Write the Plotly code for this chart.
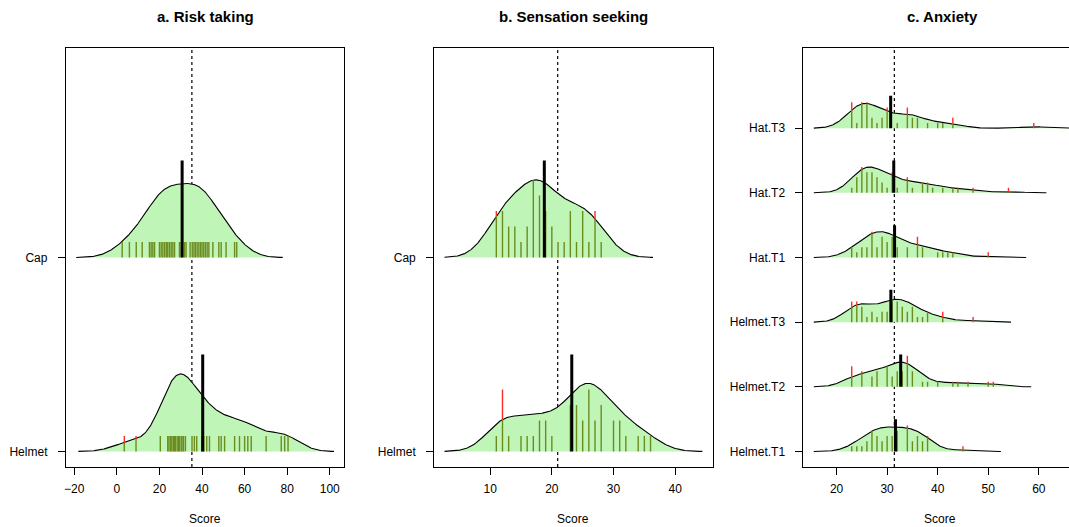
import numpy as np
import plotly.graph_objects as go

# ---------------- DATA ----------------
# a. Risk taking (continuous scores)
risk_cap = [2.5, 5.9, 9.1, 11.9, 15.3, 16.1, 16.9, 17.7, 20.0, 20.8, 21.6, 22.4, 23.2, 23.9,
            24.7, 25.5, 26.3, 27.1, 29.4, 30.2, 31.8, 32.5, 34.4, 35.4, 36.2, 36.9, 37.7, 38.5,
            39.3, 40.0, 40.8, 41.6, 42.4, 43.2, 45.1, 47.9, 49.0, 51.3, 55.3, 56.3]
risk_helmet = [3.5, 9.0, 20.4, 23.9, 24.5, 25.3, 25.8, 26.5, 27.1, 27.5, 28.3, 28.9, 29.4,
               30.2, 30.6, 31.3, 32.2, 35.3, 36.4, 37.5, 39.9, 40.8, 42.2, 43.5, 47.9, 49.0,
               50.6, 55.3, 57.6, 60.0, 61.5, 63.1, 70.1, 77.2, 78.8, 80.4]

# b. Sensation seeking (integer scores: value -> count)
ss_cap_values = [11, 12, 13, 14, 15, 16, 17, 18, 19, 20, 21, 22, 23, 24, 25, 26, 27, 28]
ss_cap_counts = [3, 3, 2, 2, 1, 2, 5, 4, 3, 2, 1, 1, 3, 1, 3, 1, 3, 1]
ss_helmet_values = [11, 12, 13, 15, 16, 17, 18, 19, 20, 23, 24, 25, 26, 27, 28, 30, 31, 32, 34, 35, 36]
ss_helmet_counts = [1, 4, 1, 1, 1, 1, 2, 2, 1, 3, 3, 2, 4, 2, 3, 2, 2, 1, 1, 1, 1]

# c. Anxiety (integer scores: value -> count)
anx_helmet_t1_values = [23, 24, 25, 26, 27, 28, 29, 30, 31, 32, 34, 35, 36, 37, 38, 45]
anx_helmet_t1_counts = [1, 1, 1, 2, 4, 3, 2, 3, 3, 4, 5, 2, 3, 2, 3, 1]
anx_helmet_t2_values = [23, 25, 27, 28, 30, 31, 32, 33, 34, 35, 37, 38, 40, 43, 44, 46, 50, 51]
anx_helmet_t2_counts = [4, 3, 2, 3, 4, 2, 3, 3, 6, 3, 1, 1, 1, 1, 1, 1, 1, 1]
anx_helmet_t3_values = [23, 24, 25, 26, 27, 28, 29, 30, 31, 32, 33, 34, 35, 36, 37, 38, 41, 47]
anx_helmet_t3_counts = [4, 4, 3, 1, 2, 1, 2, 2, 4, 4, 3, 2, 3, 1, 1, 2, 2, 1]
anx_hat_t1_values = [23, 24, 25, 26, 27, 28, 29, 30, 31, 32, 34, 36, 37, 40, 41, 42, 43, 50]
anx_hat_t1_counts = [2, 1, 2, 2, 5, 2, 4, 3, 4, 2, 2, 4, 2, 1, 1, 1, 1, 1]
anx_hat_t2_values = [23, 24, 25, 26, 27, 28, 29, 30, 31, 32, 34, 35, 37, 38, 39, 41, 43, 44, 47, 54]
anx_hat_t2_counts = [1, 3, 5, 4, 4, 3, 2, 1, 4, 1, 3, 1, 2, 2, 1, 1, 1, 1, 1, 1]
anx_hat_t3_values = [23, 24, 25, 26, 27, 28, 29, 30, 32, 34, 35, 36, 38, 40, 41, 43, 59]
anx_hat_t3_counts = [5, 1, 5, 5, 2, 1, 2, 4, 1, 4, 2, 2, 1, 1, 1, 2, 1]

panel_titles = ["a. Risk taking", "b. Sensation seeking", "c. Anxiety"]
risk_labels = ["Helmet", "Cap"]
ss_labels = ["Helmet", "Cap"]
anx_labels = ["Helmet.T1", "Helmet.T2", "Helmet.T3", "Hat.T1", "Hat.T2", "Hat.T3"]
risk_ticks = [-20, 0, 20, 40, 60, 80, 100]
ss_ticks = [10, 20, 30, 40]
anx_ticks = [20, 30, 40, 50, 60]
bandwidths = [7.2, 2.8, 2.5]


def expand(values, counts):
    out = []
    for v, c in zip(values, counts):
        out += [v] * c
    return out


risk_groups = [risk_helmet, risk_cap]
ss_groups = [expand(ss_helmet_values, ss_helmet_counts), expand(ss_cap_values, ss_cap_counts)]
anx_groups = [expand(anx_helmet_t1_values, anx_helmet_t1_counts),
              expand(anx_helmet_t2_values, anx_helmet_t2_counts),
              expand(anx_helmet_t3_values, anx_helmet_t3_counts),
              expand(anx_hat_t1_values, anx_hat_t1_counts),
              expand(anx_hat_t2_values, anx_hat_t2_counts),
              expand(anx_hat_t3_values, anx_hat_t3_counts)]

# ---------------- STYLE / LAYOUT ----------------
W, H = 1069, 527
FILL = "#c0f5b8"
OLIVE = "#6c8c1e"
RED = "#ff2a2a"
FONT = "Liberation Sans, Arial, sans-serif"
PLOT_TOP, PLOT_BOT = 48, 467
panel_px = [(64, 343), (433, 712), (803, 1082)]
MAXW = 0.4   # bean max height (y units)
LL = 0.08    # beanline unit length
ML = 0.5     # mean line length


def kde(data, bw, grid):
    d = np.asarray(data, float)
    g = np.asarray(grid, float)
    return np.exp(-0.5 * ((g[:, None] - d[None, :]) / bw) ** 2).sum(1) / (len(d) * bw * np.sqrt(2 * np.pi))


fig = go.Figure()
panels = [(risk_groups, risk_labels, risk_ticks), (ss_groups, ss_labels, ss_ticks), (anx_groups, anx_labels, anx_ticks)]
layout = {}
annotations = []

for i, (groups, labels, ticks) in enumerate(panels):
    bw = bandwidths[i]
    ax = "" if i == 0 else str(i + 1)
    xref, yref = "x" + ax, "y" + ax
    n = len(groups)
    yr = [1 - 0.04 * n, n + 1 + 0.04 * n]
    grids, dens = [], []
    for g in groups:
        gr = np.linspace(min(g) - 3 * bw, max(g) + 3 * bw, 512)
        grids.append(gr)
        dens.append(kde(g, bw, gr))
    gmax = max(d.max() for d in dens)
    sc = MAXW / gmax
    lo = min(gr[0] for gr in grids)
    hi = max(gr[-1] for gr in grids)
    span = hi - lo
    xr = [lo - 0.04 * span, hi + 0.04 * span]
    p0, p1 = panel_px[i]
    if p1 > W:  # clip last panel at page edge
        xr = [xr[0], xr[0] + (xr[1] - xr[0]) * (W - p0) / (p1 - p0)]
        p1c = W
    else:
        p1c = p1

    allv = [v for g in groups for v in g]
    om = float(np.mean(allv))
    fig.add_trace(go.Scatter(x=[om, om], y=yr, mode="lines", xaxis=xref, yaxis=yref,
                             line=dict(color="black", width=1.2, dash="dot"), hoverinfo="skip", showlegend=False))

    for k, g in enumerate(groups):
        pos = k + 1
        gr, d = grids[k], dens[k]
        fig.add_trace(go.Scatter(x=np.concatenate([gr, gr[::-1]]),
                                 y=np.concatenate([pos + d * sc, np.full(len(gr), pos)]),
                                 fill="toself", fillcolor=FILL, mode="lines", line=dict(width=0),
                                 xaxis=xref, yaxis=yref, hoverinfo="skip", showlegend=False))
        fig.add_trace(go.Scatter(x=gr, y=pos + d * sc, mode="lines", xaxis=xref, yaxis=yref,
                                 line=dict(color="black", width=1.1), hoverinfo="skip", showlegend=False))
        vals, cnts = np.unique(np.asarray(g, float), return_counts=True)
        hts = pos + kde(g, bw, vals) * sc
        ox, oy, rx, ry = [], [], [], []
        for v, c, h in zip(vals, cnts, hts):
            top = pos + c * LL
            ox += [v, v, None]
            oy += [pos, min(top, h), None]
            if top > h:
                rx += [v, v, None]
                ry += [h, top, None]
        fig.add_trace(go.Scatter(x=ox, y=oy, mode="lines", xaxis=xref, yaxis=yref,
                                 line=dict(color=OLIVE, width=1.4), hoverinfo="skip", showlegend=False))
        if rx:
            fig.add_trace(go.Scatter(x=rx, y=ry, mode="lines", xaxis=xref, yaxis=yref,
                                     line=dict(color=RED, width=1.4), hoverinfo="skip", showlegend=False))
        m = float(np.mean(g))
        fig.add_trace(go.Scatter(x=[m, m], y=[pos, pos + ML], mode="lines", xaxis=xref, yaxis=yref,
                                 line=dict(color="black", width=3), hoverinfo="skip", showlegend=False))

    common = dict(showgrid=False, zeroline=False, showline=True, linecolor="black", linewidth=1,
                  ticks="outside", ticklen=7, tickcolor="black", tickwidth=1,
                  tickfont=dict(family=FONT, size=12, color="black"))
    layout["xaxis" + ax] = dict(common, domain=[p0 / W, p1c / W], range=xr, tickvals=ticks,
                                anchor=yref, mirror=True, ticklabelstandoff=4)
    layout["yaxis" + ax] = dict(common, domain=[1 - PLOT_BOT / H, 1 - PLOT_TOP / H], range=yr,
                                tickvals=list(range(1, n + 1)), ticktext=labels, anchor=xref,
                                mirror=(p1 <= W), ticklabelstandoff=8)
    cx = (p0 + p1) / 2 / W
    annotations.append(dict(text="<b>" + panel_titles[i] + "</b>", x=cx, y=1 - 17 / H, xref="paper", yref="paper",
                            showarrow=False, xanchor="center", yanchor="middle",
                            font=dict(family=FONT, size=15, color="black")))
    annotations.append(dict(text="Score", x=cx if p1 <= W else 940 / W, y=1 - 519 / H, xref="paper", yref="paper",
                            showarrow=False, xanchor="center", yanchor="middle",
                            font=dict(family=FONT, size=12, color="black")))

fig.update_layout(width=W, height=H, autosize=False, margin=dict(l=0, r=0, t=0, b=0),
                  paper_bgcolor="white", plot_bgcolor="white", showlegend=False,
                  annotations=annotations, **layout)
fig.write_html("out.html", config={"displayModeBar": False},
               post_script="document.body.style.margin='0';document.body.style.overflow='hidden';")
